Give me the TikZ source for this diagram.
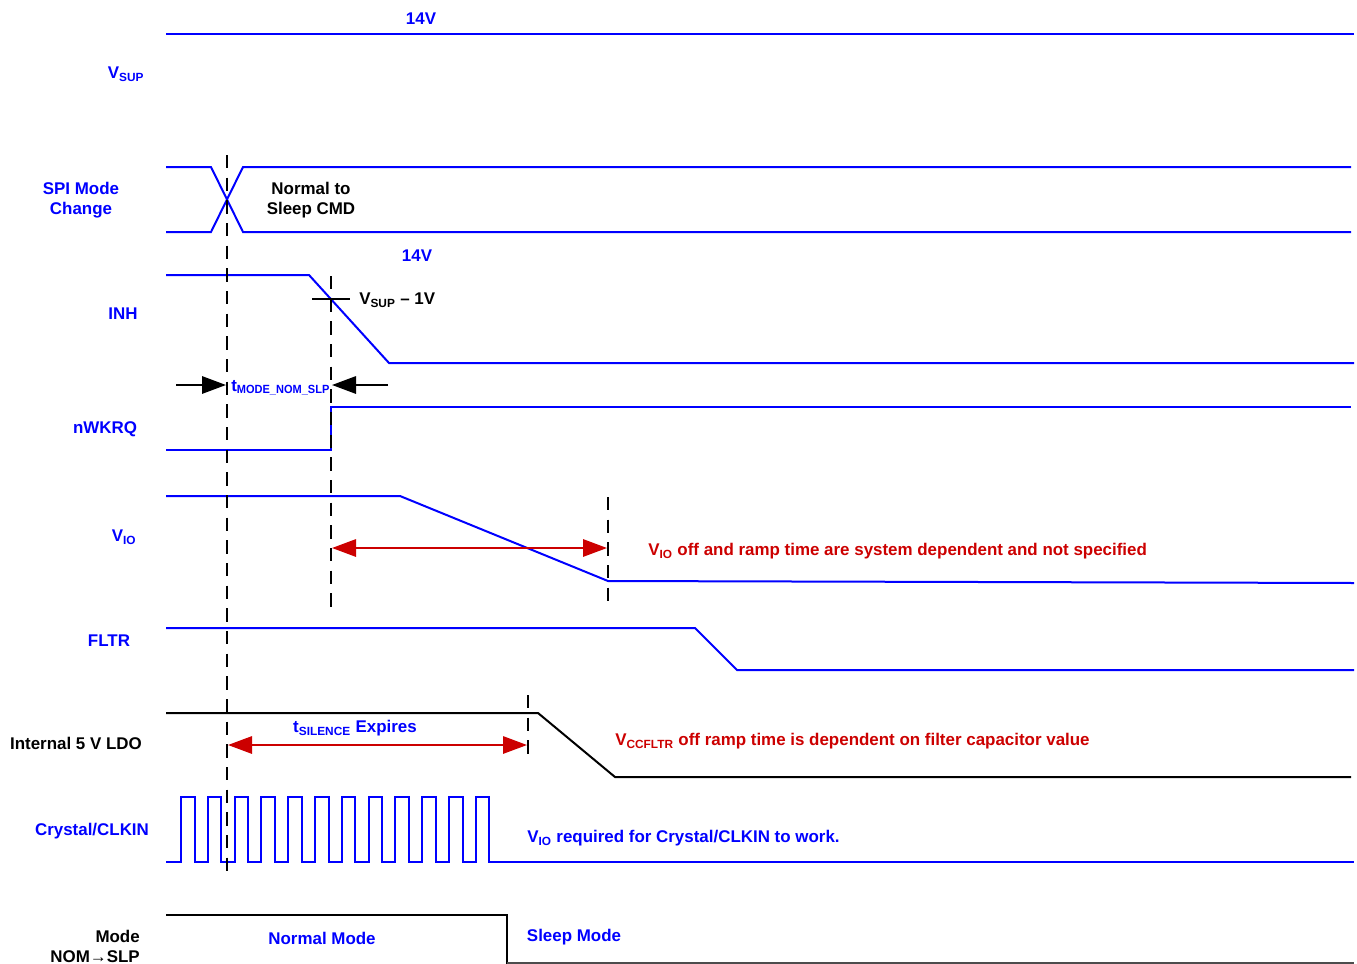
\documentclass[tikz,border=0pt]{standalone}
\usepackage{fontspec}
\setmainfont{Liberation Sans}
\usetikzlibrary{arrows.meta}
\definecolor{sigblue}{RGB}{0,0,255}
\definecolor{annred}{RGB}{204,0,0}
\begin{document}
\begin{tikzpicture}[x=0.75pt,y=-0.75pt,
  sig/.style={sigblue, line width=1.5pt, line join=miter},
  blk/.style={black, line width=1.5pt},
  guide/.style={black, line width=1.5pt, dash pattern=on 10pt off 7pt},
  lbl/.style={font=\bfseries\fontsize{12.7}{15}\selectfont, inner sep=0pt, yshift=-1.2pt},
  bl/.style={lbl, text=sigblue},
  rd/.style={lbl, text=annred},
  bk/.style={lbl, text=black},
  dimarrow/.style={annred, line width=1.5pt, {Triangle[length=18pt,width=13pt]}-{Triangle[length=18pt,width=13pt]}},
  pusharrow/.style={black, line width=1.5pt, -{Triangle[length=18pt,width=13pt]}}]
\useasboundingbox (0,0) rectangle (1357,964);

% ---- labels on the left
\node[bl] (lvsup) at (126,73) {V\textsubscript{SUP}};
\node[bl, align=center] (lspi) at (81,199) {SPI Mode\\Change};
\node[bl] (linh) at (123,312) {INH};
\node[bl] (lnw) at (105,428) {nWKRQ};
\node[bl] (lvio) at (124,536) {V\textsubscript{IO}};
\node[bl] (lfltr) at (109,639) {FLTR};
\node[bk] (lldo) at (76,742) {Internal 5 V LDO};
\node[bl] (lclk) at (92,830) {Crystal/CLKIN};
\node[bk, align=right, anchor=east] (lmode) at (140,945) {Mode\\NOM→SLP};

% ---- VSUP
\draw[sig] (166,34) -- (1354,34);
\node[bl] (v14a) at (421,17) {14V};

% ---- SPI mode change
\draw[sig] (166,167) -- (211,167) -- (243,232) -- (1351,232);
\draw[sig] (166,232) -- (211,232) -- (243,167) -- (1351,167);
\node[bk, align=center] (cmd) at (311,199) {Normal to\\Sleep CMD};
\node[bl] (v14b) at (417,254) {14V};

% ---- INH
\draw[sig] (166,275) -- (309,275) -- (389,363) -- (1354,363);
\draw[blk] (312,299) -- (350,299);
\node[bk, anchor=west] (vsup1) at (359,299) {V\textsubscript{SUP} \textendash{} 1V};

% ---- nWKRQ
\draw[sig] (166,450) -- (331,450) -- (331,407) -- (1351,407);

% ---- VIO
\draw[sig] (166,496) -- (400,496) -- (608,581) -- (1354,583);

% ---- FLTR
\draw[sig] (166,628) -- (695,628) -- (737,670) -- (1354,670);

% ---- LDO
\draw[blk] (166,713) -- (538,713) -- (615,777) -- (1351,777);

% ---- Crystal / CLKIN
\draw[sig] (166,862) foreach \k in {0,...,11} { -- ({181+26.8*\k},862) -- ({181+26.8*\k},797) -- ({194.5+26.8*\k},797) -- ({194.5+26.8*\k},862) } -- (1354,862);
\node[bl, anchor=west] (clknote) at (527,837) {V\textsubscript{IO} required for Crystal/CLKIN to work.};

% ---- Mode
\draw[blk] (166,915) -- (507,915) -- (507,964);
\draw[black!70, line width=1pt] (507,963) -- (1354,963);
\node[bl] (nm) at (322,937) {Normal Mode};
\node[bl] (sm) at (574,936) {Sleep Mode};

% ---- guide lines
\draw[guide] (227,155) -- (227,873);
\draw[guide] (331,276) -- (331,612);
\draw[guide] (608,497) -- (608,604);
\draw[guide] (528,695) -- (528,762);

% ---- tMODE_NOM_SLP
\coordinate (ta0) at (176,385);
\coordinate (ta1) at (226,385);
\coordinate (tb0) at (388,385);
\coordinate (tb1) at (332,385);
\draw[pusharrow] (ta0) -- (ta1);
\draw[pusharrow] (tb0) -- (tb1);
\node[bl, anchor=west] (tmode) at (231,386) {t\textsubscript{\scalebox{0.93}[1]{MODE\_NOM\_SLP}}};

% ---- VIO off arrow
\coordinate (va) at (332,548);
\coordinate (vb) at (607,548);
\draw[dimarrow] (va) -- (vb);
\node[rd, anchor=west] (vionote) at (648,550) {V\textsubscript{IO} off and ramp time are system dependent and not specified};

% ---- tSILENCE arrow
\coordinate (sa) at (228,745);
\coordinate (sb) at (527,745);
\draw[dimarrow] (sa) -- (sb);
\node[bl] (tsil) at (355,727) {t\textsubscript{SILENCE} Expires};
\node[rd, anchor=west] (ccnote) at (615,740) {V\textsubscript{CCFLTR} off ramp time is dependent on filter capacitor value};
\end{tikzpicture}
\end{document}
